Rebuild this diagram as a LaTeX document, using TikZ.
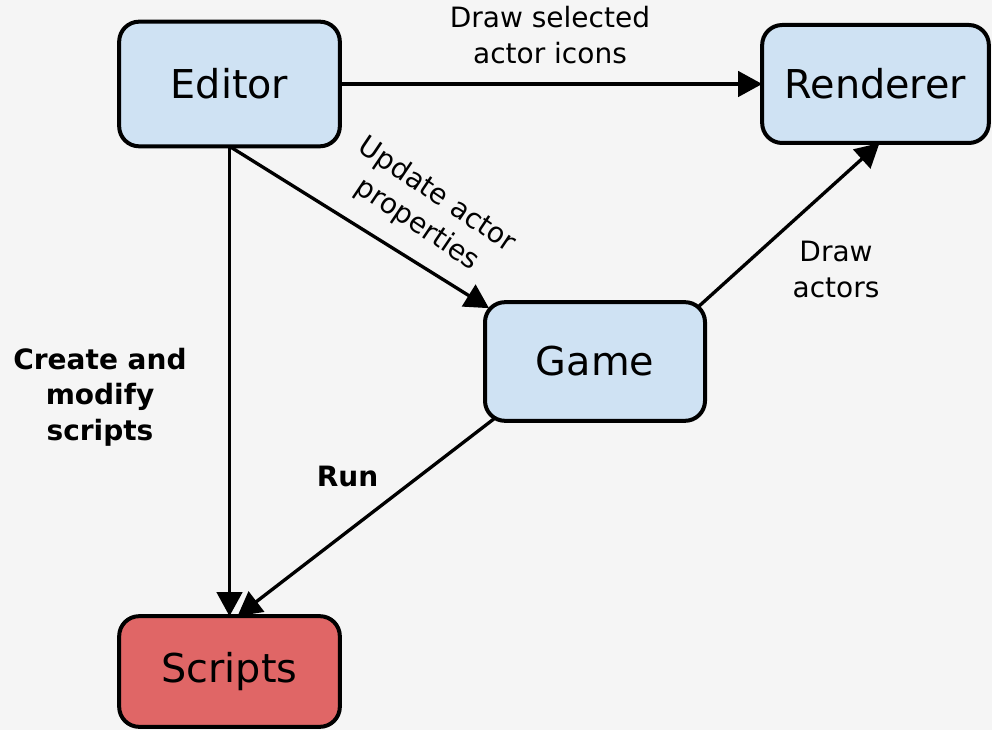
\documentclass[tikz,border=0pt]{standalone}
\usepackage{fontspec}
\setmainfont{DejaVu Sans}
\usetikzlibrary{arrows.meta}
\definecolor{bgcol}{HTML}{F5F5F5}
\definecolor{boxblue}{HTML}{CFE2F3}
\definecolor{boxred}{HTML}{E06666}
\begin{document}
\begin{tikzpicture}[x=0.75pt,y=-0.75pt,
  box/.style={draw=black, line width=3pt, rounded corners=15pt, fill=boxblue,
    font=\fontsize{29.8}{35}\selectfont, inner sep=0pt, outer sep=0pt},
  flow/.style={line width=2.5pt, -{Triangle[length=18pt,width=19pt]}},
  lbl/.style={font=\fontsize{21}{26.5}\selectfont, align=center, inner sep=0pt},
  blbl/.style={lbl, font=\fontsize{21}{26.5}\selectfont\bfseries}]
% canvas
\useasboundingbox (0,0) rectangle (992,730);
\fill[bgcol] (0,0) rectangle (992,730);

% components
\node[box, minimum width=165.5pt, minimum height=93.5pt] (editor) at (229.5,84) {Editor};
\node[box, minimum width=170pt, minimum height=88.5pt] (renderer) at (875.5,84) {Renderer};
\node[box, minimum width=165pt, minimum height=89pt] (game) at (595,361.5) {Game};
\node[box, fill=boxred, minimum width=165.5pt, minimum height=83pt] (scripts) at (229.5,671.5) {Scripts};

% connections
\draw[flow] (editor.east) -- (renderer.west);
\draw[flow] (editor.south) -- (scripts.north);
\draw[flow] (editor.south) -- ([shift={(4,6)}]game.north west);
\draw[flow] ([shift={(-6,4)}]game.north east) -- ([xshift=3]renderer.south);
\draw[flow] ([shift={(9,-2)}]game.south west) -- ([xshift=6]scripts.north);

% edge labels
\node[lbl] (lsel) at (550,35) {Draw selected\\actor icons};
\node[lbl, rotate=-34] (lupd) at (427,210) {Update actor\\properties};
\node[lbl] (ldraw) at (836,269.5) {Draw\\actors};
\node[blbl] (lcreate) at (100,397) {Create and\\modify\\scripts};
\node[blbl, anchor=base] (lrun) at (347.5,487) {Run};
\end{tikzpicture}
\end{document}
